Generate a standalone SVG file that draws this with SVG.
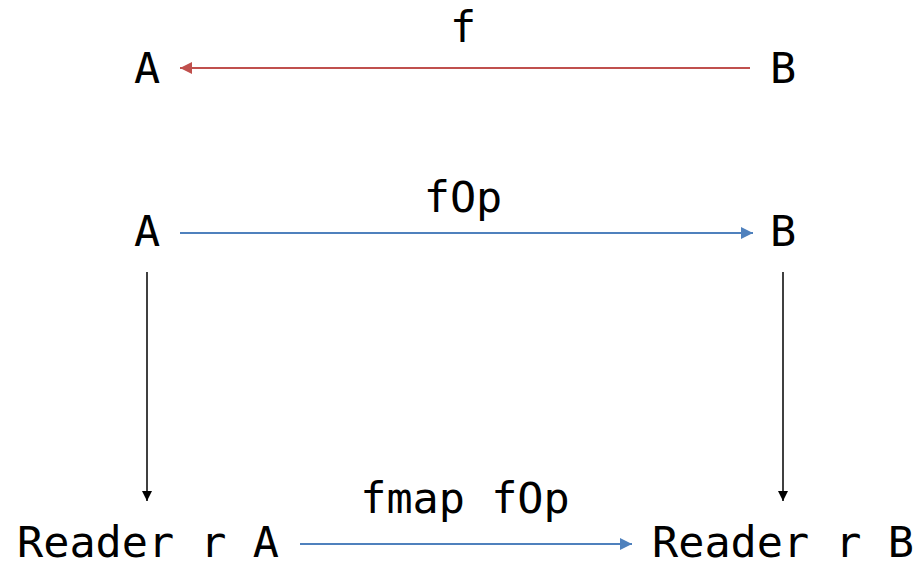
<svg xmlns="http://www.w3.org/2000/svg" width="917" height="561" viewBox="0 0 917 561">
  <style>
    text { font-family: "DejaVu Sans Mono", "Liberation Mono", monospace; font-size: 43.5px; fill: #000; text-anchor: middle; }
    .red { stroke: #C0504D; stroke-width: 2; fill: none; }
    .blue { stroke: #4F81BD; stroke-width: 2; fill: none; }
    .black { stroke: #000; stroke-width: 1.5; fill: none; }
  </style>
  <defs>
    <marker id="hRed" viewBox="0 0 10 10" refX="10" refY="5" markerWidth="16" markerHeight="12" markerUnits="userSpaceOnUse" orient="auto">
      <path d="M0,0 L10,5 L0,10 z" fill="#C0504D"/>
    </marker>
    <marker id="hBlue" viewBox="0 0 10 10" refX="10" refY="5" markerWidth="16" markerHeight="12" markerUnits="userSpaceOnUse" orient="auto">
      <path d="M0,0 L10,5 L0,10 z" fill="#4F81BD"/>
    </marker>
    <marker id="hBlack" viewBox="0 0 10 10" refX="10" refY="5" markerWidth="14" markerHeight="10" markerUnits="userSpaceOnUse" orient="auto">
      <path d="M0,0 L10,5 L0,10 z" fill="#000"/>
    </marker>
  </defs>

  <!-- nodes -->
  <g id="topA"><text x="147" y="83">A</text></g>
  <g id="topB"><text x="783" y="83">B</text></g>
  <g id="midA"><text x="147" y="246">A</text></g>
  <g id="midB"><text x="783" y="246">B</text></g>
  <g id="readerA"><text x="148" y="557">Reader r A</text></g>
  <g id="readerB"><text x="783" y="557">Reader r B</text></g>

  <!-- connectors -->
  <g id="connectors">
    <line class="red" x1="750" y1="68" x2="180" y2="68" marker-end="url(#hRed)"/>
    <text x="463" y="42">f</text>
    <line class="blue" x1="180" y1="233" x2="753" y2="233" marker-end="url(#hBlue)"/>
    <text x="463" y="212">fOp</text>
    <line class="black" x1="147" y1="272" x2="147" y2="501" marker-end="url(#hBlack)"/>
    <line class="black" x1="783" y1="272" x2="783" y2="501" marker-end="url(#hBlack)"/>
    <line class="blue" x1="300" y1="544" x2="632" y2="544" marker-end="url(#hBlue)"/>
    <text x="465" y="513">fmap fOp</text>
  </g>
</svg>
